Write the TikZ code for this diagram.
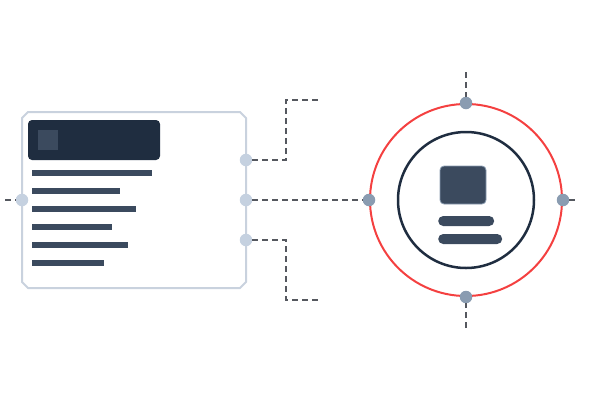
\documentclass[tikz,border=0pt]{standalone}
\definecolor{panelgrey}{HTML}{C9D2DE}
\definecolor{portlight}{HTML}{C5D1E0}
\definecolor{portdark}{HTML}{8A9CB1}
\definecolor{navy}{HTML}{1F2D40}
\definecolor{slate}{HTML}{3B4A5E}
\definecolor{ringred}{HTML}{F44040}
\definecolor{dashgrey}{HTML}{55585F}
\begin{document}
\begin{tikzpicture}[x=1pt,y=-1pt,
	panel/.style={ draw=panelgrey, line width=2pt, fill=white, line join=round },
	bar/.style={ rectangle, fill=slate, inner sep=0pt, minimum height=6pt },
	pill/.style={ rectangle, rounded corners=5pt, fill=slate, inner sep=0pt, minimum height=10pt },
	portl/.style={ circle, fill=portlight, inner sep=0pt, minimum size=12.5pt },
	portd/.style={ circle, fill=portdark, inner sep=0pt, minimum size=12.5pt },
	link/.style={ dashgrey, line width=2pt, dash pattern=on 6pt off 4pt }
]
\useasboundingbox (0,0) rectangle (600,400);

\draw[panel] (28,112) -- (240,112) -- (246,118) -- (246,282) -- (240,288)
  -- (28,288) -- (22,282) -- (22,118) -- cycle;
\node at (94,140) (head) [rectangle,rounded corners=4pt,fill=navy,inner sep=0pt,minimum width=132pt,minimum height=40pt] {};
\node at (48,140) (headicon) [rectangle,fill=slate,inner sep=0pt,minimum size=20pt] {};
\foreach \w [count=\i] in {120,88,104,80,96,72}
  \node at (32,{155+18*\i}) (row\i) [bar,anchor=west,minimum width=\w pt] {};

\node at (466,200) (ring) [circle,draw=ringred,line width=2pt,inner sep=0pt,minimum size=192pt] {};
\node at (466,200) (core) [circle,draw=navy,line width=2.5pt,inner sep=0pt,minimum size=136pt] {};
\node at (463,185) (logo) [rectangle,rounded corners=4pt,fill=slate,draw=portdark,line width=0.8pt,inner sep=0pt,minimum width=46pt,minimum height=38pt] {};
\node at (438,221) (pillone) [pill,anchor=west,minimum width=56pt] {};
\node at (438,239) (pilltwo) [pill,anchor=west,minimum width=64pt] {};

\coordinate (wtip) at (5,200);
\coordinate (aup) at (286,100);
\coordinate (aend) at (318,100);
\coordinate (cdown) at (286,300);
\coordinate (cend) at (318,300);
\coordinate (ntip) at (466,72);
\coordinate (stip) at (466,328);
\coordinate (etip) at (578,200);

\node at (22,200) (pw) [portl] {};
\node at (246,160) (pa) [portl] {};
\node at (246,200) (pb) [portl] {};
\node at (246,240) (pc) [portl] {};
\node at (ring.north) (rn) [portd] {};
\node at (ring.west) (rw) [portd] {};
\node at (ring.east) (re) [portd] {};
\node at (ring.south) (rs) [portd] {};

\draw[link] (wtip) -- (pw);
\draw[link] (pa) -| (aup) -- (aend);
\draw[link] (pc) -| (cdown) -- (cend);
\draw[link] (pb) -- (rw);
\draw[link] (ntip) -- (rn);
\draw[link] (stip) -- (rs);
\draw[link] (re) -- (etip);

\end{tikzpicture}
\end{document}
